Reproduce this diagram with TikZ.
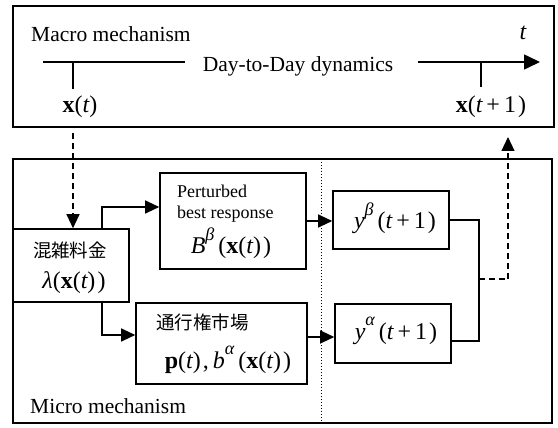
\documentclass[tikz,border=0pt]{standalone}
\usepackage{fontspec}
\setmainfont{Liberation Serif}
\newfontfamily\cjk{Noto Sans CJK JP}
\newfontfamily\eqfont[LetterSpace=9]{Liberation Serif}
\usetikzlibrary{arrows.meta}

% math-like pieces set in the text font
\newcommand\bx{{\bfseries x}}
\newcommand\bp{{\bfseries p}}
\newcommand\iv[1]{{\itshape #1}}
\newcommand\sups[1]{\raisebox{0.56em}{\fontsize{18}{18}\selectfont\itshape #1}\hspace{4pt}}

\begin{document}
\begin{tikzpicture}[x=1pt,y=-1pt,
  frame/.style={draw,line width=1.8pt,inner sep=0pt},
  box/.style={draw,line width=1.6pt,inner sep=0pt},
  conn/.style={line width=1.1pt},
  dsh/.style={dash pattern=on 6pt off 4pt},
  tip/.style={-{Triangle[length=14pt,width=13pt]}},
  lbl/.style={font=\fontsize{21.5}{24}\selectfont,inner sep=0pt},
  small/.style={font=\fontsize{18}{20}\selectfont,inner sep=0pt},
  jp/.style={font=\fontsize{18.5}{20}\selectfont\cjk,inner sep=0pt},
  mth/.style={font=\fontsize{24}{26}\selectfont\eqfont,inner sep=0pt}]
\useasboundingbox (0,0) rectangle (558,428);

% outer frames
\node[frame,minimum width=541pt,minimum height=121pt] (macro) at (283.5,66.5) {};
\node[frame,minimum width=539pt,minimum height=264pt] (micro) at (282.5,291) {};

% macro time axis
\coordinate (a0) at (43,62);
\coordinate (a1) at (185,62);
\coordinate (a2) at (418,62);
\coordinate (a3) at (540,62);
\coordinate (k0) at (73,62);
\coordinate (k0b) at (73,89);
\coordinate (k1) at (481,62);
\coordinate (k1b) at (481,87);
\draw[line width=1.6pt] (a0) -- (a1);
\draw[line width=1.6pt,-{Triangle[length=16pt,width=15pt]}] (a2) -- (a3);
\draw[line width=1.3pt] (k0) -- (k0b);
\draw[line width=1.3pt] (k1) -- (k1b);

\node[lbl,anchor=base west] (mtitle) at (31,42) {Macro mechanism};
\node[lbl,anchor=base] (dd) at (298,72) {Day-to-Day dynamics};
\node[mth] (tt) at (523,33) {\iv{t}};
\node[mth] (xt) at (80,107) {\bx(\iv{t})};
\node[mth] (xt1) at (491,107) {\bx(\iv{t}\,+\,1)};

% micro blocks
\node[box,minimum width=116pt,minimum height=73pt] (kz) at (71,265.5) {};
\node[box,minimum width=146pt,minimum height=96pt] (pb) at (233,221) {};
\node[box,minimum width=171pt,minimum height=81pt] (mk) at (221.5,343.5) {};
\node[box,minimum width=116pt,minimum height=58pt] (yb) at (391,220) {};
\node[box,minimum width=116pt,minimum height=59pt] (ya) at (393,333.5) {};

\node[jp] (kzt) at (70,250) {混雑料金};
\node[mth] (kzm) at (74,283) {\iv{λ}(\bx(\iv{t}))};

\node[small,anchor=west] (pb1) at (177,191) {Perturbed};
\node[small,anchor=west] (pb2) at (177,214) {best response};
\node[mth] (pbm) at (231,243) {\iv{B}\sups{β}(\bx(\iv{t}))};

\node[jp,anchor=west] (mkt) at (156,322) {通行権市場};
\node[mth] (mkm) at (228,360) {\bp(\iv{t}),\,\iv{b}\sups{α}(\bx(\iv{t}))};

\node[mth] (ybm) at (395,218) {\iv{y}\sups{β}(\iv{t}\,+\,1)};
\node[mth] (yam) at (396,331) {\iv{y}\sups{α}(\iv{t}\,+\,1)};

\node[lbl,anchor=base west] (mctitle) at (30,413) {Micro mechanism};

% separator between decision and outcome
\coordinate (s0) at (321,159);
\coordinate (s1) at (321,423);
\draw[line width=1pt,dotted] (s0) -- (s1);

% state passed down to the micro level
\coordinate (d0) at (73,133);
\draw[conn,dsh,tip] (d0) -- (d0 |- kz.north);

% toll to the two response blocks
\coordinate (c1) at (102,207);
\coordinate (c2) at (102,335);
\draw[conn,tip] (kz.north -| c1) |- (pb.west |- c1);
\draw[conn,tip] (kz.south -| c2) |- (mk.west |- c2);

\draw[conn,tip] (pb.east) -- (pb.east -| yb.west);
\coordinate (c3) at (321,337);
\draw[conn,tip] (mk.east |- c3) -- (ya.west |- c3);

% outcomes merge and feed the next day
\coordinate (j0) at (479,279);
\coordinate (j1) at (479,341);
\coordinate (u0) at (508,279);
\coordinate (u1) at (508,137);
\draw[conn] (yb.east) -| (j0) -- (j1) -- (ya.east |- j1);
\draw[conn,dsh] (j0) -- (u0);
\draw[conn,dsh,tip] (u0) -- (u1);
\end{tikzpicture}
\end{document}
